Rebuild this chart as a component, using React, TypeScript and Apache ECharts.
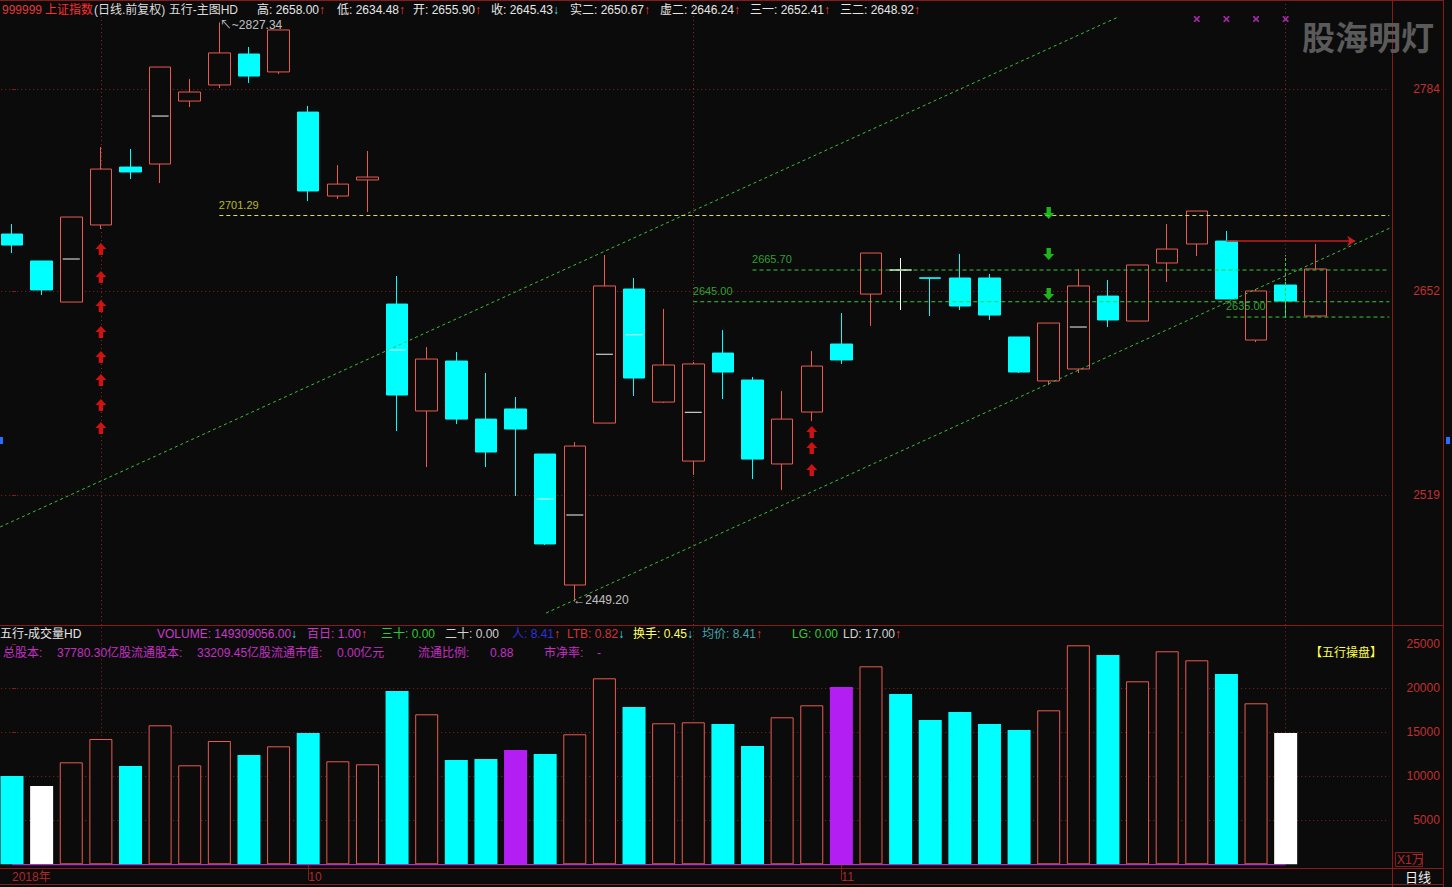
import React, { useEffect, useRef } from 'react';
import * as echarts from 'echarts';

// ---------------- data ----------------
const dates = [
  '2018-09-14', '2018-09-17', '2018-09-18', '2018-09-19', '2018-09-20', '2018-09-21', '2018-09-25', '2018-09-26', '2018-09-27', '2018-09-28',
  '2018-10-08', '2018-10-09', '2018-10-10', '2018-10-11', '2018-10-12', '2018-10-15', '2018-10-16', '2018-10-17', '2018-10-18', '2018-10-19',
  '2018-10-22', '2018-10-23', '2018-10-24', '2018-10-25', '2018-10-26', '2018-10-29', '2018-10-30', '2018-10-31',
  '2018-11-01', '2018-11-02', '2018-11-05', '2018-11-06', '2018-11-07', '2018-11-08', '2018-11-09', '2018-11-12', '2018-11-13', '2018-11-14',
  '2018-11-15', '2018-11-16', '2018-11-19', '2018-11-20', '2018-11-21', '2018-11-22', '2018-11-23',
];
const opens = [2689.2, 2671.6, 2644.8, 2695.1, 2732.9, 2734.9, 2776.0, 2786.5, 2806.7, 2795.0, 2768.8, 2714.0, 2724.5, 2643.5, 2573.7, 2606.3, 2568.4, 2575.0, 2545.6, 2460.1, 2565.8, 2653.3, 2579.5, 2541.0, 2611.5, 2593.9, 2539.1, 2573.0, 2617.4, 2650.0, 2665.7, 2660.6, 2660.5, 2660.5, 2622.0, 2593.3, 2601.1, 2648.7, 2632.4, 2670.3, 2682.7, 2684.6, 2620.0, 2655.90, 2635.7];
const closes = [2682.0, 2652.7, 2700.3, 2731.6, 2729.7, 2798.2, 2781.9, 2807.4, 2792.3, 2822.4, 2717.3, 2721.8, 2726.4, 2584.1, 2607.6, 2568.4, 2546.9, 2561.9, 2486.9, 2550.8, 2655.3, 2595.2, 2603.7, 2604.4, 2599.1, 2542.3, 2568.4, 2603.0, 2607.0, 2676.8, 2665.7, 2660.3, 2642.2, 2636.3, 2599.1, 2631.1, 2655.3, 2633.1, 2669.0, 2679.4, 2704.2, 2646.8, 2652.0, 2645.43, 2666.4];
const lows = [2676.8, 2649.4, 2644.8, 2692.5, 2725.1, 2722.5, 2772.1, 2784.5, 2787.8, 2793.6, 2710.7, 2712.1, 2703.6, 2560.6, 2537.1, 2565.2, 2537.1, 2518.2, 2486.2, 2449.20, 2565.8, 2583.5, 2578.9, 2531.9, 2581.5, 2529.3, 2522.1, 2567.1, 2604.4, 2629.2, 2639.6, 2635.7, 2639.6, 2633.1, 2598.5, 2590.6, 2598.5, 2628.5, 2632.4, 2657.9, 2674.8, 2646.8, 2618.7, 2634.48, 2635.7];
const highs = [2695.7, 2671.6, 2700.3, 2746.0, 2744.7, 2798.2, 2790.4, 2827.34, 2811.3, 2822.4, 2772.8, 2734.2, 2743.4, 2661.8, 2615.4, 2612.2, 2598.5, 2582.8, 2545.6, 2553.4, 2675.5, 2660.5, 2640.3, 2605.7, 2626.5, 2595.9, 2586.7, 2612.8, 2637.6, 2676.8, 2673.5, 2660.8, 2676.2, 2663.1, 2622.0, 2631.1, 2666.4, 2659.2, 2669.0, 2695.7, 2704.2, 2691.2, 2653.3, 2658.00, 2682.7];
// volume in 万 (X1万)
const volumes = [10034, 8898, 11591, 14239, 11170, 15795, 11250, 14011, 12420, 13409, 14920, 11705, 11364, 19693, 17045, 11852, 11966, 12989, 12534, 14773, 21136, 17875, 16023, 16136, 15943, 13443, 16705, 18068, 20148, 22500, 19352, 16398, 17307, 15943, 15261, 17500, 24886, 23784, 20795, 24205, 23182, 21625, 18295, 14930.9];
const volumeKinds = ['down', 'white', 'up', 'up', 'down', 'up', 'up', 'up', 'down', 'up', 'down', 'up', 'up', 'down', 'up', 'down', 'down', 'purple', 'down', 'up', 'up', 'down', 'up', 'up', 'down', 'down', 'up', 'up', 'purple', 'up', 'down', 'down', 'down', 'down', 'down', 'up', 'up', 'down', 'up', 'up', 'up', 'down', 'up', 'white'];

const priceTicks = [2519, 2652, 2784];
const volumeTicks = [5000, 10000, 15000, 20000, 25000];
const volumeGridValues = [5000, 10000, 15000, 20000];
const gridLineIdx = [3, 23, 43];
const priceMin = 2434.0;
const priceMax = 2841.3;
const volumeMax = 27193;

const midIdx = [2, 5, 13, 18, 19, 20, 21, 23, 36];
const midVals = [2672.9, 2766.2, 2613.5, 2516.2, 2505.8, 2610.7, 2623.5, 2572.8, 2628.5];

const buyIdxA = 3;
const buyValsA = [2679.4, 2661.1, 2642.2, 2625.2, 2608.9, 2593.9, 2577.6, 2562.6];
const buyIdxB = 27;
const buyValsB = [2560.0, 2549.5, 2535.2];
const sellIdx = 35;
const sellVals = [2702.9, 2676.2, 2650.0];

const topMarkIdx = [40, 41, 42, 43];
const topMarkVal = 2829.5;

const levelPrices = [2701.29, 2665.70, 2645.00, 2635.00];
const levelStarts = [7, 25, 23, 41];

const channelUpper = [[-0.4, 2498.0], [37.34, 2830.8]];
const channelLower = [[18.03, 2441.8], [46.5, 2692.9]];

const targetArrowX = [41, 45.35];
const targetArrowPrice = 2684.6;
const cursorIdx = 43;
const cursorRange = [2635.7, 2675.5];

const quoteLabels = ['高', '低', '开', '收'];
const indicatorLabels = ['实二', '虚二', '三一', '三二'];
const indicatorValues = [2650.67, 2646.24, 2652.41, 2648.92];

const volHeaderLabels = ['VOLUME', '百日', '三十', '二十', '人', 'LTB', '换手', '均价', 'LG', 'LD'];
const volHeaderValues = ['149309056.00', '1.00', '0.00', '0.00', '8.41', '0.82', '0.45', '8.41', '0.00', '17.00'];
const volHeaderDirs = ['dn', 'up', '', '', 'up', 'dn', 'dn', 'up', '', 'up'];

const infoTexts = ['总股本:', '37780.30亿股流通股本:', '33209.45亿股流通市值:', '0.00亿元', '流通比例:', '0.88', '市净率:', '-'];

// ---------------- layout / style ----------------
const W = 1452;
const H = 887;
const BG = '#0b0b0b';
const FRAME = '#8a1a1a';
const GRIDDOT = '#8c2020';
const UP = '#ea5a50';
const DOWN = '#00ffff';
const FONT = "'Liberation Sans', Arial, 'Noto Sans CJK SC', sans-serif";
const CJK = "'Noto Sans CJK SC', sans-serif";

const cats = [...dates, 'pad-1', 'pad-2'];
const N_CATS = cats.length;
const X_MIN = -0.5;
const X_MAX = N_CATS - 0.5;
const BAND = 29.62;
const GRID_LEFT = -2.8;
const GRID_WIDTH = BAND * N_CATS;
const PRICE_TOP = 1;
const PRICE_BOTTOM = 625;
const VOL_TOP = 625;
const VOL_BOTTOM = 864.3;

const quoteX = [257, 337, 413, 491];
const quoteDirs = ['up', 'up', 'up', 'dn'];
const indicatorX = [570, 660, 750, 840];
const volHeaderX = [157, 307, 381, 445, 512, 567, 633, 702, 792, 843];
const volHeaderColors = ['#c83cc8', '#c83cc8', '#34c834', '#d2d2d2', '#3030dc', '#d23434', '#ffff66', '#4aa2aa', '#3cc83c', '#d2d2d2'];
const infoX = [3, 57, 197, 337, 418, 490, 544, 597];
const levelColors = ['#e2e23c', '#3cc83c', '#3cc83c', '#3cc83c'];

const ARROW_UP_COLOR = '#ff3c3c';
const ARROW_DN_COLOR = '#3ce6ff';

function richText(x: number, y: number, parts: [string, string][], size = 12, z = 100) {
  const rich: any = {};
  let text = '';
  parts.forEach(([t, c], i) => {
    rich['p' + i] = { fill: c, fontSize: size, fontFamily: FONT };
    text += `{p${i}|${t}}`;
  });
  return {
    type: 'text',
    x,
    y,
    z,
    silent: true,
    style: { text, rich, fontSize: size, fontFamily: FONT, verticalAlign: 'middle', align: 'left' },
  };
}

function arrowPart(dir: string): [string, string][] {
  if (dir === 'up') return [['↑', ARROW_UP_COLOR]];
  if (dir === 'dn') return [['↓', ARROW_DN_COLOR]];
  return [];
}

function hline(x1: number, y: number, x2: number) {
  return { type: 'line', z: 60, silent: true, shape: { x1, y1: y, x2, y2: y }, style: { stroke: FRAME, lineWidth: 1 } };
}
function vline(x: number, y1: number, y2: number) {
  return { type: 'line', z: 60, silent: true, shape: { x1: x, y1, x2: x, y2 }, style: { stroke: FRAME, lineWidth: 1 } };
}

function bottomLabel(i: number): string {
  if (i >= dates.length) return '';
  if (i === 0) return dates[0].slice(0, 4) + '年';
  const m = +dates[i].slice(5, 7);
  const pm = +dates[i - 1].slice(5, 7);
  return m !== pm ? String(m) : '';
}

function buildOption(): any {
  const last = dates.length - 2; // the selected (cursor) bar
  const quoteValues = [highs[last], lows[last], opens[last], closes[last]];

  const graphics: any[] = [];
  // header row
  graphics.push(richText(2, 10, [['999999', '#e03a3a']]));
  graphics.push(richText(45, 10, [['上证指数', '#ff2e2e']]));
  graphics.push(richText(94, 10, [['(日线.前复权) 五行-主图HD', '#dcdcdc']]));
  quoteLabels.forEach((l, i) => {
    graphics.push(richText(quoteX[i], 10, [[`${l}: ${quoteValues[i].toFixed(2)}`, '#e6e6e6'], ...arrowPart(quoteDirs[i])]));
  });
  indicatorLabels.forEach((l, i) => {
    graphics.push(richText(indicatorX[i], 10, [[`${l}: ${indicatorValues[i].toFixed(2)}`, '#e6e6e6'], ...arrowPart('up')]));
  });
  // volume header
  graphics.push(richText(0, 634, [['五行-成交量HD', '#e6e6e6']]));
  volHeaderLabels.forEach((l, i) => {
    graphics.push(richText(volHeaderX[i], 634, [[`${l}: ${volHeaderValues[i]}`, volHeaderColors[i]], ...arrowPart(volHeaderDirs[i])]));
  });
  infoTexts.forEach((t, i) => {
    graphics.push(richText(infoX[i], 653, [[t, '#c430c4']]));
  });
  graphics.push(richText(1310, 653, [['【五行操盘】', '#ffff50']]));
  // watermark
  graphics.push({
    type: 'text', x: 1302, y: 36, z: 90, silent: true,
    style: { text: '股海明灯', fill: '#5a5a5a', fontSize: 33, fontWeight: 'bold', fontFamily: CJK, verticalAlign: 'middle' },
  });
  // frame
  graphics.push(hline(0, 0.5, 1444));
  graphics.push(hline(0, 625.5, 1444));
  graphics.push(hline(0, 868.5, 1444));
  graphics.push(hline(0, 884.5, 1444));
  graphics.push(vline(1392.5, 0, H));
  graphics.push(vline(1443.5, 0, H));
  // X1万 box
  graphics.push({ type: 'rect', z: 60, silent: true, shape: { x: 1395.5, y: 852.5, width: 27, height: 14 }, style: { fill: 'none', stroke: FRAME, lineWidth: 1 } });
  graphics.push(richText(1397, 860, [['X1万', '#b02a2a']]));
  graphics.push(richText(1405, 877, [['日线', '#f0f0f0']], 13));
  // small side markers
  graphics.push({ type: 'rect', z: 60, silent: true, shape: { x: 0, y: 437, width: 3, height: 7 }, style: { fill: '#2a6cff' } });
  graphics.push({ type: 'rect', z: 60, silent: true, shape: { x: 1446, y: 437, width: 4, height: 7 }, style: { fill: '#2a6cff' } });

  const kindStyle: any = {
    up: { color: BG, borderColor: UP, borderWidth: 1 },
    down: { color: DOWN },
    purple: { color: '#b31ff2' },
    white: { color: '#ffffff' },
  };

  const upArrow = 'path://M5,0L10,5.5L7,5.5L7,11L3,11L3,5.5L0,5.5Z';
  const dnArrow = 'path://M3,0L7,0L7,5.5L10,5.5L5,11L0,5.5L3,5.5Z';
  const xMark = 'path://M0,0L2,0L5,3L8,0L10,0L10,2L7,5L10,8L10,10L8,10L5,7L2,10L0,10L0,8L3,5L0,2Z';

  const maxHigh = Math.max(...highs);
  const maxIdx = highs.indexOf(maxHigh);
  const minLow = Math.min(...lows);
  const minIdx = lows.indexOf(minLow);

  const series: any[] = [
    // price grid lines
    {
      type: 'lines', coordinateSystem: 'cartesian2d', xAxisIndex: 2, yAxisIndex: 0, z: 1, silent: true,
      lineStyle: { color: GRIDDOT, width: 1, type: [1, 3], opacity: 1 },
      data: [
        ...priceTicks.map((v) => ({ coords: [[X_MIN, v], [X_MAX, v]] })),
        ...gridLineIdx.map((i) => ({ coords: [[i, priceMin], [i, priceMax]] })),
      ],
    },
    // volume grid lines
    {
      type: 'lines', coordinateSystem: 'cartesian2d', xAxisIndex: 3, yAxisIndex: 1, z: 1, silent: true,
      lineStyle: { color: GRIDDOT, width: 1, type: [1, 3], opacity: 1 },
      data: [
        ...volumeGridValues.map((v) => ({ coords: [[X_MIN, v], [X_MAX, v]] })),
        ...gridLineIdx.map((i) => ({ coords: [[i, 0], [i, volumeMax]] })),
      ],
    },
    // candles
    {
      type: 'candlestick', xAxisIndex: 0, yAxisIndex: 0, barWidth: 22, z: 3,
      itemStyle: { color: BG, color0: DOWN, borderColor: UP, borderColor0: DOWN, borderColorDoji: '#ffffff', borderWidth: 1 },
      data: dates.map((d, i) => {
        const v = [opens[i], closes[i], lows[i], highs[i]];
        if (opens[i] === closes[i]) {
          return { value: v, itemStyle: { color: '#ffffff', color0: '#ffffff', borderColor: '#ffffff', borderColor0: '#ffffff', borderColorDoji: '#ffffff' } };
        }
        return v;
      }),
    },
    // volume bars
    {
      type: 'bar', xAxisIndex: 1, yAxisIndex: 1, barWidth: 23, z: 3,
      data: volumes.map((v, i) => ({ value: v, itemStyle: kindStyle[volumeKinds[i]] })),
    },
    // volume baseline
    {
      type: 'lines', coordinateSystem: 'cartesian2d', xAxisIndex: 3, yAxisIndex: 1, z: 4, silent: true,
      lineStyle: { color: '#b22fc8', width: 2, opacity: 1 },
      data: [{ coords: [[0, 0], [volumes.length - 1, 0]] }],
    },
    // body mid lines
    {
      type: 'scatter', xAxisIndex: 0, yAxisIndex: 0, z: 5, silent: true, symbol: 'rect', symbolSize: [17, 1.2],
      data: midIdx.map((i, k) => ({
        value: [dates[i], midVals[k]],
        itemStyle: { color: closes[i] > opens[i] ? '#ffffff' : '#d8ffff' },
      })),
    },
    // buy arrows
    {
      type: 'scatter', xAxisIndex: 0, yAxisIndex: 0, z: 5, silent: true, symbol: upArrow, symbolSize: [11, 12],
      itemStyle: { color: '#ff1414' },
      data: [...buyValsA.map((v) => [dates[buyIdxA], v]), ...buyValsB.map((v) => [dates[buyIdxB], v])],
    },
    // sell arrows
    {
      type: 'scatter', xAxisIndex: 0, yAxisIndex: 0, z: 5, silent: true, symbol: dnArrow, symbolSize: [11, 12],
      itemStyle: { color: '#22e022' },
      data: sellVals.map((v) => [dates[sellIdx], v]),
    },
    // top marks
    {
      type: 'scatter', xAxisIndex: 0, yAxisIndex: 0, z: 5, silent: true, symbol: xMark, symbolSize: 6,
      itemStyle: { color: '#d22ed2' },
      data: topMarkIdx.map((i) => [dates[i], topMarkVal]),
    },
    // channel lines
    {
      type: 'line', xAxisIndex: 2, yAxisIndex: 0, z: 4, silent: true, symbol: 'none',
      lineStyle: { color: '#3cbe3c', width: 1, type: [3, 3] },
      data: channelUpper,
    },
    {
      type: 'line', xAxisIndex: 2, yAxisIndex: 0, z: 4, silent: true, symbol: 'none',
      lineStyle: { color: '#3cbe3c', width: 1, type: [3, 3] },
      data: channelLower,
    },
    // level lines
    ...levelPrices.map((p, i) => ({
      type: 'line', xAxisIndex: 2, yAxisIndex: 0, z: 4, silent: true, symbol: 'none',
      lineStyle: { color: levelColors[i], width: 1, type: [4, 3] },
      data: [[levelStarts[i], p], [X_MAX, p]],
    })),
    // level labels
    ...levelPrices.map((p, i) => ({
      type: 'scatter', xAxisIndex: 2, yAxisIndex: 0, z: 6, silent: true, symbolSize: 1,
      itemStyle: { color: 'rgba(0,0,0,0)' },
      label: { show: true, position: [0, -16], formatter: p.toFixed(2), color: levelColors[i], fontSize: 11, fontFamily: FONT },
      data: [[levelStarts[i], p]],
    })),
    // extreme labels
    {
      type: 'scatter', xAxisIndex: 0, yAxisIndex: 0, z: 6, silent: true, symbolSize: 1,
      itemStyle: { color: 'rgba(0,0,0,0)' },
      data: [
        { value: [dates[maxIdx], maxHigh], label: { show: true, position: [1, -3], formatter: '↖~' + maxHigh.toFixed(2), color: '#f0f0f0', fontSize: 12, fontFamily: FONT } },
        { value: [dates[minIdx], minLow], label: { show: true, position: [-1, -7], formatter: '←' + minLow.toFixed(2), color: '#f0f0f0', fontSize: 12, fontFamily: FONT } },
      ],
    },
    // target arrow
    {
      type: 'lines', coordinateSystem: 'cartesian2d', xAxisIndex: 2, yAxisIndex: 0, z: 6, silent: true,
      symbol: ['none', 'arrow'], symbolSize: 8,
      lineStyle: { color: '#c81e1e', width: 1.5, opacity: 1 },
      data: [{ coords: [[targetArrowX[0], targetArrowPrice], [targetArrowX[1], targetArrowPrice]] }],
    },
    // cursor segment
    {
      type: 'lines', coordinateSystem: 'cartesian2d', xAxisIndex: 2, yAxisIndex: 0, z: 6, silent: true,
      lineStyle: { color: '#34d034', width: 1, type: [3, 2], opacity: 1 },
      data: [{ coords: [[cursorIdx, cursorRange[0]], [cursorIdx, cursorRange[1]]] }],
    },
  ];

  const plain = (v: number) => String(Math.round(v));

  return {
    animation: false,
    backgroundColor: BG,
    textStyle: { fontFamily: FONT },
    grid: [
      { left: GRID_LEFT, top: PRICE_TOP, width: GRID_WIDTH, height: PRICE_BOTTOM - PRICE_TOP, containLabel: false, outerBoundsMode: 'none' },
      { left: GRID_LEFT, top: VOL_TOP, width: GRID_WIDTH, height: VOL_BOTTOM - VOL_TOP, containLabel: false, outerBoundsMode: 'none' },
    ],
    xAxis: [
      { type: 'category', gridIndex: 0, data: cats, boundaryGap: true, show: false },
      {
        type: 'category', gridIndex: 1, data: cats, boundaryGap: true, offset: 4,
        axisLine: { show: false },
        axisTick: {
          show: true, alignWithLabel: true, length: 16,
          interval: (i: number) => i > 0 && bottomLabel(i) !== '',
          lineStyle: { color: FRAME },
        },
        axisLabel: {
          show: true, interval: 0, formatter: (_v: string, i: number) => bottomLabel(i),
          color: '#b02828', fontSize: 12, fontFamily: FONT, align: 'left', margin: 3,
        },
        splitLine: { show: false },
      },
      { type: 'value', gridIndex: 0, min: X_MIN, max: X_MAX, show: false },
      { type: 'value', gridIndex: 1, min: X_MIN, max: X_MAX, show: false },
    ],
    yAxis: [
      {
        type: 'value', gridIndex: 0, position: 'right', offset: 3, min: priceMin, max: priceMax,
        axisLine: { show: false },
        axisTick: { show: true, customValues: priceTicks, length: 4, lineStyle: { color: FRAME } },
        axisLabel: { show: true, customValues: priceTicks, formatter: plain, color: '#c03030', fontSize: 12, fontFamily: FONT, align: 'right', margin: 47.5 },
        splitLine: { show: false },
      },
      {
        type: 'value', gridIndex: 1, position: 'right', offset: 3, min: 0, max: volumeMax,
        axisLine: { show: false },
        axisTick: { show: true, customValues: volumeTicks, length: 4, lineStyle: { color: FRAME } },
        axisLabel: { show: true, customValues: volumeTicks, formatter: plain, color: '#c03030', fontSize: 12, fontFamily: FONT, align: 'right', margin: 47.5 },
        splitLine: { show: false },
      },
    ],
    series,
    graphic: graphics,
  };
}

export default function App() {
  const ref = useRef<HTMLDivElement>(null);
  useEffect(() => {
    document.body.style.margin = '0';
    document.body.style.background = BG;
    const chart = echarts.init(ref.current as HTMLDivElement, null, { renderer: 'svg', width: W, height: H });
    chart.setOption(buildOption());
    return () => {
      chart.dispose();
    };
  }, []);
  return <div ref={ref} style={{ position: 'absolute', left: 0, top: 0, width: W, height: H, background: BG }} />;
}
